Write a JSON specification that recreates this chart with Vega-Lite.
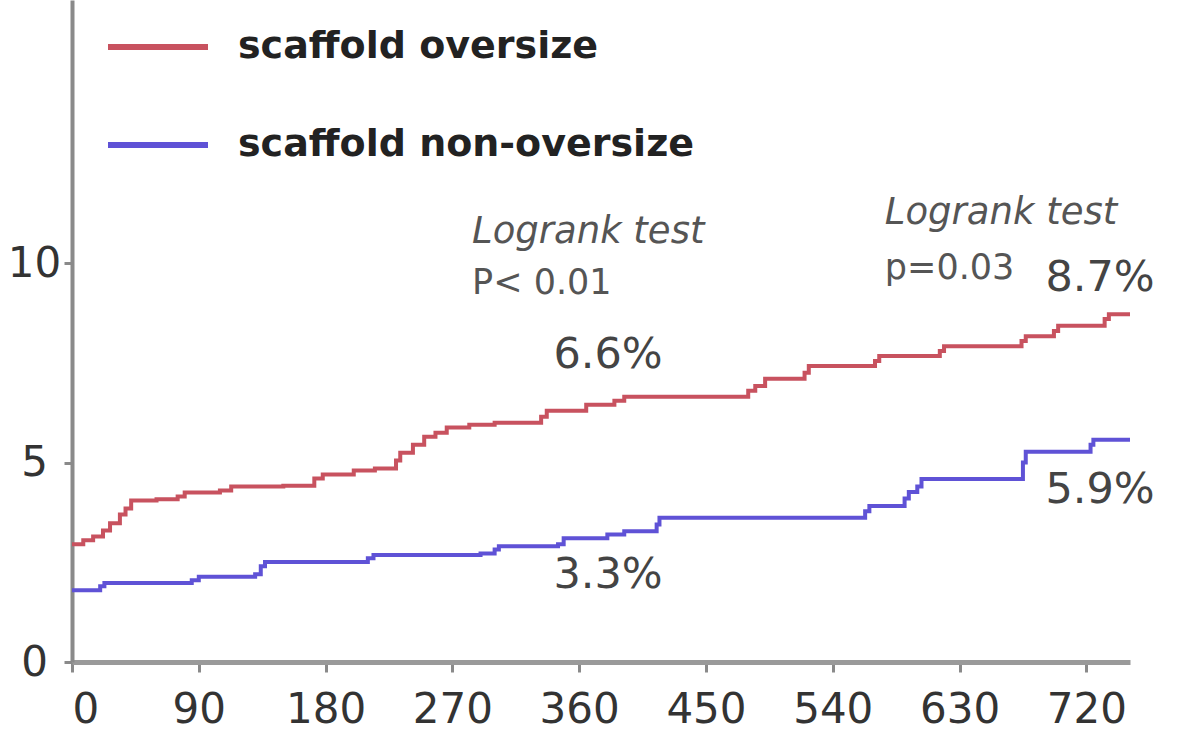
{
  "$schema": "https://vega.github.io/schema/vega-lite/v6.json",
  "autosize": "none",
  "width": 1058,
  "height": 662,
  "padding": {"left": 72, "top": 0, "right": 58, "bottom": 81},
  "background": "white",
  "config": {
    "view": {"stroke": null},
    "font": "DejaVu Sans",
    "axis": {"grid": false, "title": null, "labelFont": "DejaVu Sans", "labelFontSize": 42, "labelColor": "#333333"}
  },
  "datasets": {
    "curves": [
      {"group": "scaffold oversize", "day": 0, "pct": 2.95},
      {"group": "scaffold oversize", "day": 8, "pct": 3.05},
      {"group": "scaffold oversize", "day": 15, "pct": 3.15},
      {"group": "scaffold oversize", "day": 22, "pct": 3.3},
      {"group": "scaffold oversize", "day": 27, "pct": 3.48},
      {"group": "scaffold oversize", "day": 34, "pct": 3.7},
      {"group": "scaffold oversize", "day": 38, "pct": 3.85},
      {"group": "scaffold oversize", "day": 42, "pct": 4.05},
      {"group": "scaffold oversize", "day": 60, "pct": 4.08},
      {"group": "scaffold oversize", "day": 75, "pct": 4.15},
      {"group": "scaffold oversize", "day": 80, "pct": 4.25},
      {"group": "scaffold oversize", "day": 105, "pct": 4.3},
      {"group": "scaffold oversize", "day": 113, "pct": 4.4},
      {"group": "scaffold oversize", "day": 150, "pct": 4.42},
      {"group": "scaffold oversize", "day": 172, "pct": 4.6},
      {"group": "scaffold oversize", "day": 178, "pct": 4.7},
      {"group": "scaffold oversize", "day": 200, "pct": 4.8},
      {"group": "scaffold oversize", "day": 215, "pct": 4.85},
      {"group": "scaffold oversize", "day": 230, "pct": 5.05},
      {"group": "scaffold oversize", "day": 233, "pct": 5.25},
      {"group": "scaffold oversize", "day": 242, "pct": 5.45},
      {"group": "scaffold oversize", "day": 250, "pct": 5.65},
      {"group": "scaffold oversize", "day": 258, "pct": 5.75},
      {"group": "scaffold oversize", "day": 266, "pct": 5.88},
      {"group": "scaffold oversize", "day": 282, "pct": 5.95},
      {"group": "scaffold oversize", "day": 300, "pct": 6.0},
      {"group": "scaffold oversize", "day": 333, "pct": 6.15},
      {"group": "scaffold oversize", "day": 337, "pct": 6.3},
      {"group": "scaffold oversize", "day": 365, "pct": 6.45},
      {"group": "scaffold oversize", "day": 385, "pct": 6.55},
      {"group": "scaffold oversize", "day": 392, "pct": 6.65},
      {"group": "scaffold oversize", "day": 480, "pct": 6.8},
      {"group": "scaffold oversize", "day": 485, "pct": 6.92},
      {"group": "scaffold oversize", "day": 492, "pct": 7.1},
      {"group": "scaffold oversize", "day": 520, "pct": 7.25},
      {"group": "scaffold oversize", "day": 523, "pct": 7.42},
      {"group": "scaffold oversize", "day": 570, "pct": 7.55},
      {"group": "scaffold oversize", "day": 573, "pct": 7.67},
      {"group": "scaffold oversize", "day": 616, "pct": 7.8},
      {"group": "scaffold oversize", "day": 619, "pct": 7.92},
      {"group": "scaffold oversize", "day": 674, "pct": 8.05},
      {"group": "scaffold oversize", "day": 677, "pct": 8.17},
      {"group": "scaffold oversize", "day": 697, "pct": 8.3},
      {"group": "scaffold oversize", "day": 700, "pct": 8.43},
      {"group": "scaffold oversize", "day": 733, "pct": 8.6},
      {"group": "scaffold oversize", "day": 736, "pct": 8.72},
      {"group": "scaffold oversize", "day": 751, "pct": 8.72},
      {"group": "scaffold non-oversize", "day": 0, "pct": 1.8},
      {"group": "scaffold non-oversize", "day": 20, "pct": 1.9},
      {"group": "scaffold non-oversize", "day": 23, "pct": 1.98},
      {"group": "scaffold non-oversize", "day": 85, "pct": 2.05},
      {"group": "scaffold non-oversize", "day": 90, "pct": 2.14},
      {"group": "scaffold non-oversize", "day": 130, "pct": 2.2},
      {"group": "scaffold non-oversize", "day": 134, "pct": 2.4},
      {"group": "scaffold non-oversize", "day": 137, "pct": 2.51},
      {"group": "scaffold non-oversize", "day": 210, "pct": 2.6},
      {"group": "scaffold non-oversize", "day": 214, "pct": 2.68},
      {"group": "scaffold non-oversize", "day": 290, "pct": 2.72},
      {"group": "scaffold non-oversize", "day": 300, "pct": 2.82},
      {"group": "scaffold non-oversize", "day": 303, "pct": 2.9},
      {"group": "scaffold non-oversize", "day": 345, "pct": 2.95},
      {"group": "scaffold non-oversize", "day": 349, "pct": 3.1},
      {"group": "scaffold non-oversize", "day": 380, "pct": 3.2},
      {"group": "scaffold non-oversize", "day": 392, "pct": 3.28},
      {"group": "scaffold non-oversize", "day": 415, "pct": 3.45},
      {"group": "scaffold non-oversize", "day": 417, "pct": 3.62},
      {"group": "scaffold non-oversize", "day": 563, "pct": 3.78},
      {"group": "scaffold non-oversize", "day": 566, "pct": 3.91},
      {"group": "scaffold non-oversize", "day": 591, "pct": 4.1},
      {"group": "scaffold non-oversize", "day": 594, "pct": 4.26},
      {"group": "scaffold non-oversize", "day": 600, "pct": 4.4},
      {"group": "scaffold non-oversize", "day": 603, "pct": 4.59},
      {"group": "scaffold non-oversize", "day": 675, "pct": 5.0},
      {"group": "scaffold non-oversize", "day": 677, "pct": 5.27},
      {"group": "scaffold non-oversize", "day": 723, "pct": 5.45},
      {"group": "scaffold non-oversize", "day": 725, "pct": 5.57},
      {"group": "scaffold non-oversize", "day": 751, "pct": 5.57}
    ],
    "tests": [
      {"day": 284, "pct": 10.78, "label": "Logrank test"},
      {"day": 577, "pct": 11.26, "label": "Logrank test"}
    ],
    "pvals": [
      {"day": 284, "pct": 9.5, "label": "P< 0.01"},
      {"day": 577, "pct": 9.88, "label": "p=0.03"}
    ],
    "notes": [
      {"day": 691, "pct": 9.63, "label": "8.7%"},
      {"day": 341.7, "pct": 7.7, "label": "6.6%"},
      {"day": 691, "pct": 4.31, "label": "5.9%"},
      {"day": 341.7, "pct": 2.18, "label": "3.3%"}
    ]
  },
  "layer": [
    {
      "data": {"name": "curves"},
      "mark": {"type": "line", "interpolate": "step-after", "strokeWidth": 4},
      "encoding": {
        "x": {
          "field": "day", "type": "quantitative",
          "scale": {"domain": [0, 751], "nice": false, "zero": false},
          "axis": {"values": [0, 90, 180, 270, 360, 450, 540, 630, 720], "domainColor": "#9a9a9a", "domainWidth": 5, "tickColor": "#8a8a8a", "tickWidth": 3, "tickSize": 10, "labelPadding": 17, "labelFlush": true}
        },
        "y": {
          "field": "pct", "type": "quantitative",
          "scale": {"domain": [0, 16.6], "nice": false},
          "axis": {"values": [0, 5, 10], "domainColor": "#8a8a8a", "domainWidth": 4, "tickColor": "#8a8a8a", "tickWidth": 3, "tickSize": 8, "labelPadding": 30, "labelAlign": "center", "labelBaseline": "middle"}
        },
        "color": {
          "field": "group", "type": "nominal",
          "scale": {"domain": ["scaffold oversize", "scaffold non-oversize"], "range": ["#c8525f", "#5f52d6"]},
          "legend": {
            "title": null, "orient": "none", "legendX": 33, "legendY": -6,
            "symbolType": "stroke", "symbolSize": 10000, "symbolStrokeWidth": 6,
            "labelFontSize": 38, "labelFontWeight": "bold", "labelColor": "#222222", "labelFont": "DejaVu Sans",
            "labelOffset": 27, "rowPadding": 26, "labelLimit": 0
          }
        }
      }
    },
    {
      "data": {"name": "tests"},
      "mark": {"type": "text", "align": "left", "baseline": "middle", "fontSize": 37, "fontStyle": "italic", "color": "#555555", "font": "DejaVu Sans"},
      "encoding": {
        "x": {"field": "day", "type": "quantitative"},
        "y": {"field": "pct", "type": "quantitative"},
        "text": {"field": "label"}
      }
    },
    {
      "data": {"name": "pvals"},
      "mark": {"type": "text", "align": "left", "baseline": "middle", "fontSize": 35, "color": "#555555", "font": "DejaVu Sans"},
      "encoding": {
        "x": {"field": "day", "type": "quantitative"},
        "y": {"field": "pct", "type": "quantitative"},
        "text": {"field": "label"}
      }
    },
    {
      "data": {"name": "notes"},
      "mark": {"type": "text", "align": "left", "baseline": "middle", "fontSize": 43, "color": "#444444", "font": "DejaVu Sans"},
      "encoding": {
        "x": {"field": "day", "type": "quantitative"},
        "y": {"field": "pct", "type": "quantitative"},
        "text": {"field": "label"}
      }
    }
  ]
}
